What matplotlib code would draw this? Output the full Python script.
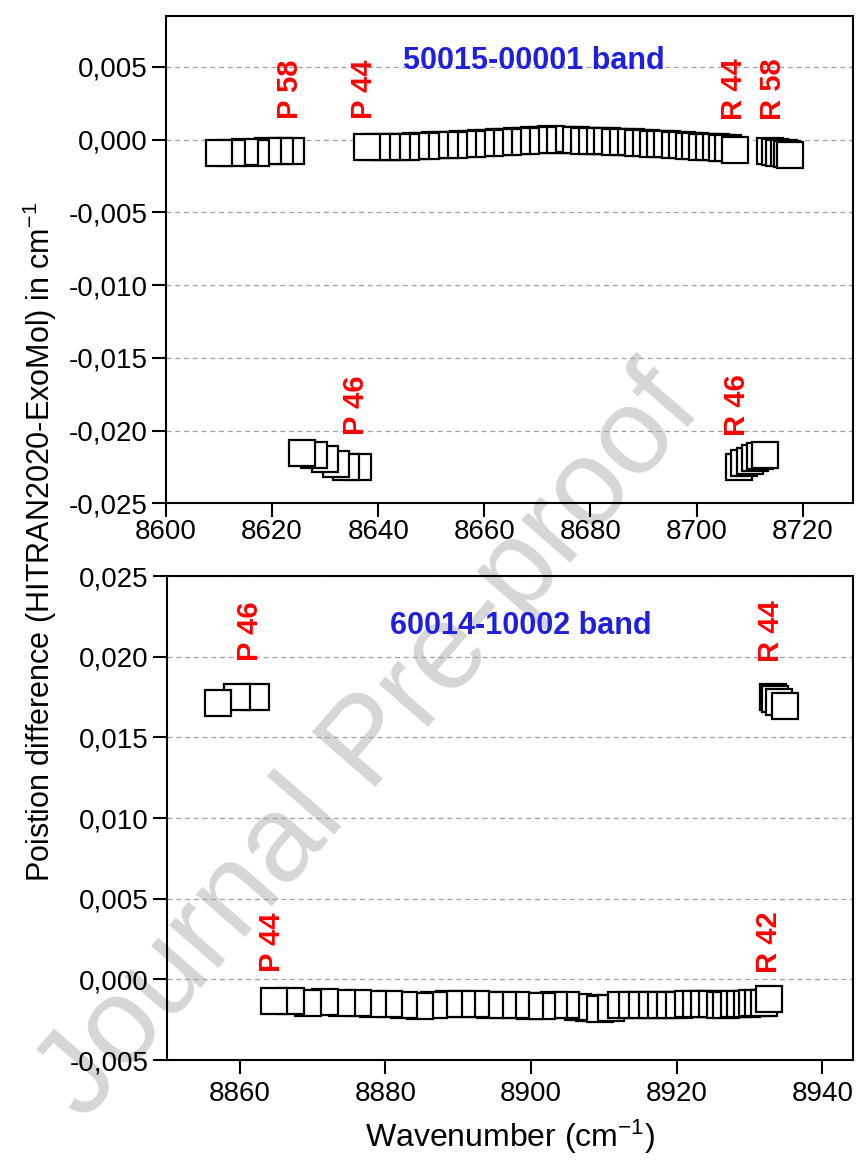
import matplotlib
matplotlib.use("Agg")
import matplotlib.pyplot as plt
from matplotlib.ticker import FuncFormatter, FixedLocator

plt.rcParams['font.family'] = ['Liberation Sans', 'DejaVu Sans']
plt.rcParams['mathtext.default'] = 'regular'

# ---------------- Top panel: 50015-00001 band ----------------
# main P branch (P2 ... P44), listed with increasing J
top_p_x = [8675.7, 8674.1, 8672.6, 8671.0, 8669.4, 8667.8, 8666.1, 8664.5, 8662.8, 8661.1,
           8659.4, 8657.7, 8656.0, 8654.3, 8652.5, 8650.7, 8649.0, 8647.2, 8645.3, 8643.5,
           8641.6, 8639.8, 8637.9]
top_p_y = [-0.00003, 0.00000, 0.00002, 0.00000, -0.00003, -0.00007, -0.00010, -0.00014, -0.00018, -0.00022,
           -0.00025, -0.00028, -0.00032, -0.00035, -0.00038, -0.00040, -0.00042, -0.00045, -0.00048, -0.00050,
           -0.00052, -0.00054, -0.00052]
# main R branch (R0 ... R44)
top_r_x = [8677.2, 8678.8, 8680.3, 8681.8, 8683.2, 8684.7, 8686.2, 8687.6, 8689.0, 8690.4,
           8691.8, 8693.2, 8694.5, 8695.9, 8697.2, 8698.5, 8699.8, 8701.1, 8702.3, 8703.6,
           8704.8, 8706.0, 8707.2]
top_r_y = [-0.00005, -0.00007, -0.00008, -0.00010, -0.00012, -0.00014, -0.00016, -0.00018, -0.00021, -0.00024,
           -0.00027, -0.00030, -0.00033, -0.00036, -0.00039, -0.00042, -0.00045, -0.00048, -0.00051, -0.00054,
           -0.00057, -0.00060, -0.00069]
# high-J P lines near zero
top_phi_x = [8623.5, 8621.4, 8619.3, 8617.0, 8614.9, 8612.4, 8609.9]
top_phi_y = [-0.00080, -0.00080, -0.00080, -0.00090, -0.00085, -0.00090, -0.00095]
# P lines shifted to about -0.022
top_plo_x = [8636.1, 8634.0, 8632.0, 8630.0, 8627.9, 8625.7]
top_plo_y = [-0.02251, -0.02249, -0.02228, -0.02196, -0.02166, -0.02157]
# R lines shifted to about -0.022
top_rlo_x = [8708.0, 8708.9, 8710.0, 8711.1, 8712.0, 8713.0]
top_rlo_y = [-0.02251, -0.02224, -0.02206, -0.02189, -0.02178, -0.02166]
# high-J R lines near zero
top_rhi_x = [8713.9, 8714.8, 8715.6, 8716.4, 8717.0, 8717.7]
top_rhi_y = [-0.00080, -0.00085, -0.00090, -0.00095, -0.00100, -0.00103]

top_labels = ["P 58", "P 44", "R 44", "R 58", "P 46", "R 46"]
top_yticks = [-0.025, -0.020, -0.015, -0.010, -0.005, 0.000, 0.005]
top_xticks = [8600, 8620, 8640, 8660, 8680, 8700, 8720]

# ---------------- Bottom panel: 60014-10002 band ----------------
bot_p_x = [8908.0, 8906.4, 8904.8, 8903.2, 8901.5, 8899.8, 8898.0, 8896.2, 8894.4, 8892.5,
           8890.6, 8888.7, 8886.7, 8884.7, 8882.6, 8880.5, 8878.3, 8876.2, 8874.0, 8871.7,
           8869.4, 8867.1, 8864.7]
bot_p_y = [-0.00180, -0.00170, -0.00158, -0.00160, -0.00165, -0.00163, -0.00162, -0.00160, -0.00158, -0.00153,
           -0.00152, -0.00153, -0.00158, -0.00165, -0.00160, -0.00153, -0.00150, -0.00145, -0.00144, -0.00143,
           -0.00145, -0.00132, -0.00135]
bot_r_x = [8909.5, 8911.0, 8912.4, 8913.9, 8915.2, 8916.6, 8917.9, 8919.1, 8920.3, 8921.5,
           8922.7, 8923.8, 8924.8, 8925.9, 8926.8, 8927.8, 8928.7, 8929.6, 8930.4, 8931.2,
           8932.0, 8932.7]
bot_r_y = [-0.00182, -0.00175, -0.00162, -0.00160, -0.00160, -0.00161, -0.00160, -0.00158, -0.00158, -0.00155,
           -0.00152, -0.00153, -0.00155, -0.00157, -0.00156, -0.00155, -0.00153, -0.00150, -0.00148, -0.00147,
           -0.00145, -0.00122]
bot_phi_x = [8862.2, 8859.7, 8857.1]
bot_phi_y = [0.01752, 0.01747, 0.01710]
bot_rhi_x = [8933.2, 8933.5, 8934.1, 8934.8]
bot_rhi_y = [0.01749, 0.01739, 0.01718, 0.01693]

bot_labels = ["P 46", "R 44", "P 44", "R 42"]
bot_yticks = [-0.005, 0.000, 0.005, 0.010, 0.015, 0.020, 0.025]
bot_xticks = [8860, 8880, 8900, 8920, 8940]

band_titles = ["50015-00001 band", "60014-10002 band"]

# ---------------- figure ----------------
W, H = 856, 1163
fig = plt.figure(figsize=(W / 100, H / 100), dpi=100)

ax1 = fig.add_axes([166 / W, 1 - 503.3 / H, (853 - 166) / W, (503.3 - 16) / H])
ax2 = fig.add_axes([166.7 / W, 1 - 1060 / H, (853 - 166.7) / W, (1060 - 576) / H])

fmt = FuncFormatter(lambda v, p: f"{v:.3f}".replace('.', ','))

mk = dict(marker='s', linestyle='none', markersize=18.5, markerfacecolor='white',
          markeredgecolor='black', markeredgewidth=1.6)

for ax in (ax1, ax2):
    ax.set_facecolor('none')
    for s in ax.spines.values():
        s.set_linewidth(1.5)
        s.set_zorder(5)
    ax.yaxis.set_major_formatter(fmt)
    ax.tick_params(axis='both', direction='out', length=10, width=1.5, labelsize=20)
    ax.tick_params(axis='y', pad=3)
    ax.grid(axis='y', linestyle=(0, (4, 3)), color='#a0a0a0', linewidth=0.9)
    ax.set_axisbelow(True)

# top panel
for xs, ys in [(top_phi_x, top_phi_y), (top_plo_x, top_plo_y), (top_p_x, top_p_y),
               (top_r_x, top_r_y), (top_rlo_x, top_rlo_y), (top_rhi_x, top_rhi_y)]:
    ax1.plot(xs, ys, **mk)
ax1.set_xlim(8600, 8729.5)
ax1.set_ylim(-0.025, 0.0085)
ax1.yaxis.set_major_locator(FixedLocator(top_yticks))
ax1.xaxis.set_major_locator(FixedLocator(top_xticks))
ax1.tick_params(axis='x', pad=1)

lab_kw = dict(color='red', fontweight='bold', fontsize=21, rotation=90, ha='center', va='center')
top_pos = [(8623.3, 0.00344), (8637.4, 0.00344), (8707.0, 0.00344), (8714.5, 0.00344),
           (8635.9, -0.01823), (8707.6, -0.01823)]
for t, (x, y) in zip(top_labels, top_pos):
    ax1.text(x, y, t, **lab_kw)
ax1.text(8669.4, 0.0054, band_titles[0], color='#1f1fe0', fontweight='bold', fontsize=22,
         ha='center', va='center')

# bottom panel
for xs, ys in [(bot_phi_x, bot_phi_y), (bot_p_x, bot_p_y), (bot_r_x, bot_r_y), (bot_rhi_x, bot_rhi_y)]:
    ax2.plot(xs, ys, **mk)
ax2.set_xlim(8850, 8944.2)
ax2.set_ylim(-0.005, 0.025)
ax2.yaxis.set_major_locator(FixedLocator(bot_yticks))
ax2.xaxis.set_major_locator(FixedLocator(bot_xticks))
ax2.tick_params(axis='x', pad=5)

bot_pos = [(8861.5, 0.02156), (8933.0, 0.02156), (8864.5, 0.00229), (8932.7, 0.00229)]
for t, (x, y) in zip(bot_labels, bot_pos):
    ax2.text(x, y, t, **lab_kw)
ax2.text(8898.6, 0.0219, band_titles[1], color='#1f1fe0', fontweight='bold', fontsize=22,
         ha='center', va='center')

fig.text(0.046, 1 - 542 / H, "Poistion difference (HITRAN2020-ExoMol) in cm$^{-1}$",
         rotation=90, ha='center', va='center', fontsize=22)
fig.text(509.5 / W, 1 - 1137 / H, "Wavenumber (cm$^{-1}$)", ha='center', va='center', fontsize=23)

# watermark
fig.text(370 / W, 1 - 745 / H, "Journal Pre-proof", rotation=49, ha='center', va='center',
         fontsize=88, color='#d6d6d6', zorder=-1)

fig.savefig("out.png", dpi=100)
